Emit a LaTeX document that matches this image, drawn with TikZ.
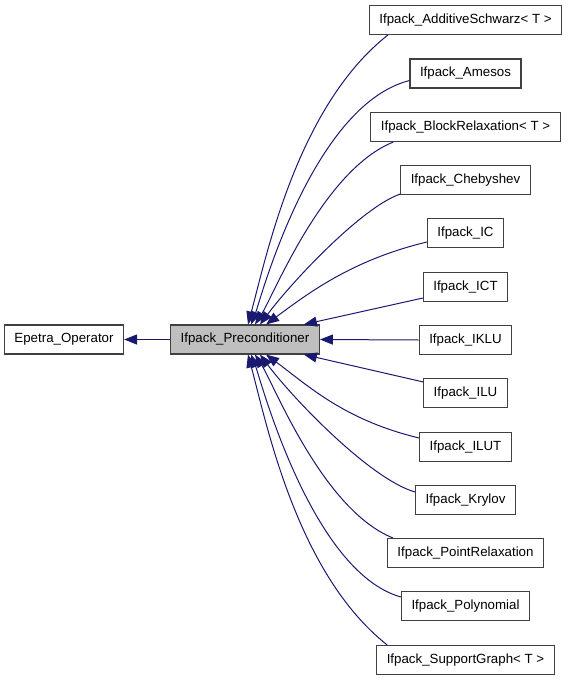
\documentclass[tikz,border=0pt]{standalone}
\usepackage{fontspec}
\setmainfont{Liberation Sans}
\usetikzlibrary{arrows.meta}
\definecolor{midnightblue}{HTML}{191970}
\begin{document}
\begin{tikzpicture}[x=1pt,y=-1pt,
  cls/.style={draw=black!75,line width=1.1pt,fill=white,minimum height=29pt,inner xsep=10pt,inner ysep=0pt,font=\fontsize{13.3}{15}\selectfont},
  cur/.style={cls,fill=black!25},
  inh/.style={draw=midnightblue,line width=1pt,-{Triangle[length=13pt,width=10pt]}}]
\useasboundingbox (0,0) rectangle (568,680);
\node[cls] (eo) at (64,339.5) {Epetra\_Operator};
\node[cur] (pc) at (245,339.5) {Ifpack\_Preconditioner};
\node[cls] (as) at (465.5,20) {Ifpack\_AdditiveSchwarz< T >};
\node[cls] (am) at (465.5,73.5) {Ifpack\_Amesos};
\node[cls] (br) at (465.5,127) {Ifpack\_BlockRelaxation< T >};
\node[cls] (ch) at (465.5,180) {Ifpack\_Chebyshev};
\node[cls] (ic) at (465.5,233) {Ifpack\_IC};
\node[cls] (ict) at (465.5,287) {Ifpack\_ICT};
\node[cls] (iklu) at (465.5,340) {Ifpack\_IKLU};
\node[cls] (ilu) at (465.5,393) {Ifpack\_ILU};
\node[cls] (ilut) at (465.5,447) {Ifpack\_ILUT};
\node[cls] (kr) at (465.5,500) {Ifpack\_Krylov};
\node[cls] (pr) at (465.5,553) {Ifpack\_PointRelaxation};
\node[cls] (po) at (465.5,606) {Ifpack\_Polynomial};
\node[cls] (sg) at (465.5,660) {Ifpack\_SupportGraph< T >};
\draw[inh] (pc.west) -- (eo.east);
\draw[inh] ([xshift=19pt]as.south west) .. controls +(-90,71) and +(19,-71) .. ([xshift=3pt]pc.north);
\draw[inh] ([yshift=-7pt]am.west) .. controls +(-98,25) and +(9,-23) .. ([xshift=6pt]pc.north);
\draw[inh] ([xshift=23pt]br.south west) .. controls +(-70,28) and +(19,-30) .. ([xshift=10pt]pc.north);
\draw[inh] ([yshift=1pt]ch.south west) .. controls +(-38,13) and +(33,-44) .. ([xshift=15pt]pc.north);
\draw[inh] ([yshift=-9pt]ic.west) .. controls +(-75,18) and +(42,-31) .. ([xshift=21pt]pc.north);
\draw[inh] ([yshift=4pt]ict.south west) -- ([xshift=-16pt]pc.north east);
\draw[inh] (iklu.west) -- (pc.east);
\draw[inh] ([yshift=-4pt]ilu.north west) -- ([xshift=-16pt]pc.south east);
\draw[inh] ([yshift=9pt]ilut.west) .. controls +(-75,-18) and +(42,31) .. ([xshift=21pt]pc.south);
\draw[inh] ([yshift=8pt]kr.west) .. controls +(-45,-13) and +(33,44) .. ([xshift=15pt]pc.south);
\draw[inh] ([xshift=6pt]pr.north west) .. controls +(-70,-28) and +(19,30) .. ([xshift=10pt]pc.south);
\draw[inh] ([yshift=9pt]po.west) .. controls +(-90,-25) and +(9,23) .. ([xshift=6pt]pc.south);
\draw[inh] ([xshift=11pt]sg.north west) .. controls +(-90,-71) and +(19,71) .. ([xshift=3pt]pc.south);
\end{tikzpicture}
\end{document}
